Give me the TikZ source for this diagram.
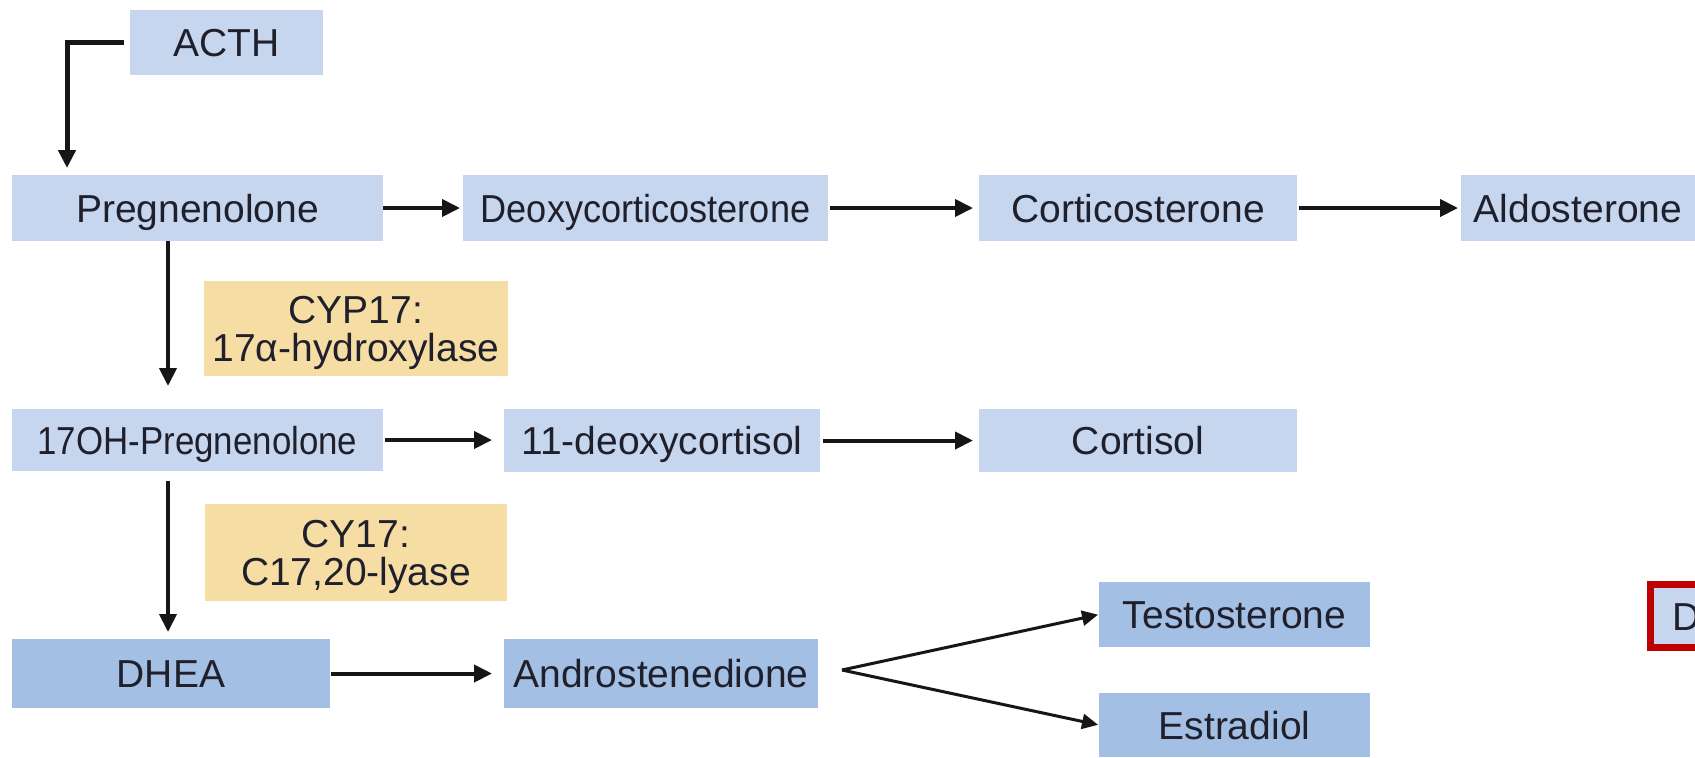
\documentclass[tikz,border=0pt]{standalone}
\usepackage{fontspec}
\setmainfont{Liberation Sans}
\usepackage{graphicx}
\usetikzlibrary{arrows.meta}
\definecolor{lb}{RGB}{198,214,238}
\definecolor{db}{RGB}{163,191,227}
\definecolor{yl}{RGB}{246,221,164}
\definecolor{rd}{RGB}{192,0,0}
\definecolor{tx}{RGB}{32,32,44}
\definecolor{ar}{RGB}{22,22,22}
\begin{document}
\begin{tikzpicture}[x=0.5pt,y=-0.5pt,
  every node/.style={font=\fontsize{19.5}{19}\selectfont, text=tx},
  wh/.style 2 args={minimum width=#1*0.5pt, minimum height=#2*0.5pt},
  basebox/.style={inner sep=0pt, outer sep=0pt, text height=14pt, text depth=0pt},
  lbox/.style={basebox, fill=lb},
  dbox/.style={basebox, fill=db},
  ybox/.style={inner sep=0pt, outer sep=0pt, fill=yl, align=center, text depth=0pt},
  arr/.style={-{Triangle[length=9pt,width=8.5pt]}, line width=2pt, draw=ar},
  arrthin/.style={-{Triangle[length=8pt,width=7.5pt]}, line width=1.5pt, draw=ar},
]
\useasboundingbox (0,0) rectangle (1695,757);
\fill[white] (0,0) rectangle (1695,757);

% boxes
\node[lbox, wh={193}{65}] (acth) at (226.5,42.5) {ACTH};
\node[lbox, wh={371}{66}] (preg) at (197.5,208) {Pregnenolone};
\node[lbox, wh={365}{66}] (doc) at (645.5,208) {\scalebox{0.927}[1]{Deoxycorticosterone}};
\node[lbox, wh={318}{66}] (cortico) at (1138,208) {Corticosterone};
\node[lbox, wh={234}{66}] (aldo) at (1578,208) {Aldosterone};
\node[ybox, wh={304}{95}] (cyp) at (356,328.5) {CYP17:\\17α-hydroxylase};
\node[lbox, wh={371}{62}] (ohp) at (197.5,440) {\scalebox{0.894}[1]{17OH-Pregnenolone}};
\node[lbox, wh={316}{63}] (deoxyc) at (662,440.5) {11-deoxycortisol};
\node[lbox, wh={318}{63}] (cortisol) at (1138,440.5) {Cortisol};
\node[ybox, wh={302}{97}] (cy) at (356,552.5) {CY17:\\C17,20-lyase};
\node[dbox, wh={318}{69}] (dhea) at (171,673.5) {DHEA};
\node[dbox, wh={314}{69}] (andro) at (661,673.5) {Androstenedione};
\node[dbox, wh={271}{65}] (testo) at (1234.5,614.5) {Testosterone};
\node[dbox, wh={271}{64}] (estra) at (1234.5,725) {Estradiol};

\begin{scope}
\clip (0,0) rectangle (1695,757);
\node[draw=rd, line width=3.5pt, fill=lb, anchor=west, inner xsep=10.75pt, inner ysep=0pt,
      text width=40pt, align=left, minimum height=31.5pt, text height=14pt, text depth=0pt,
      outer sep=0pt] (red) at (1650.5,616) {D};
\end{scope}

% helper coordinates
\coordinate (vx) at (168,0);
\coordinate (ax) at (67,0);
\coordinate (split) at (842,670);

% connectors
\draw[arr, line width=2.5pt, shorten <=3pt, shorten >=3.5pt] (acth.west) -| (ax |- preg.north);
\draw[arr, shorten >=1.5pt] (preg.east) -- (doc.west);
\draw[arr, shorten <=1pt, shorten >=3pt] (doc.east) -- (cortico.west);
\draw[arr, shorten <=1pt, shorten >=1.5pt] (cortico.east) -- (aldo.west);
\draw[arr, shorten >=11.5pt] (vx |- preg.south) -- (vx |- ohp.north);
\draw[arr, shorten <=1pt, shorten >=6pt] (ohp.east) -- (ohp.east -| deoxyc.west);
\draw[arr, shorten <=1.5pt, shorten >=3pt] (deoxyc.east) -- (deoxyc.east -| cortisol.west);
\draw[arr, shorten <=5pt, shorten >=3.5pt] (vx |- ohp.south) -- (vx |- dhea.north);
\draw[arr, shorten <=0.5pt, shorten >=6pt] (dhea.east) -- (andro.west);
\draw[arrthin, shorten >=0.5pt] (split) -- (testo.west);
\draw[arrthin, shorten >=0.5pt] (split) -- (estra.west);
\end{tikzpicture}
\end{document}
